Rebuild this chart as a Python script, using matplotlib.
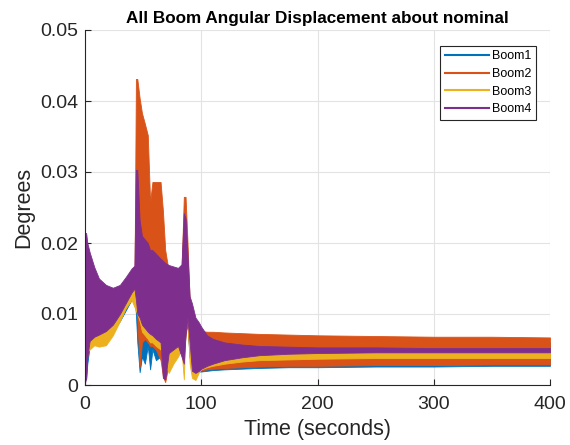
import matplotlib
matplotlib.use('Agg')
import matplotlib.pyplot as plt

# --- dados (envelopes das oscilações) ---
t = [0, 1, 2, 4, 8, 12, 18, 24, 30, 35, 40, 42.5, 43.8, 45, 47, 49, 51.5, 54, 56, 58,
     61, 65, 67, 69, 72, 76, 80, 83, 85, 86.5, 88, 90, 92, 95, 98, 100, 105, 110, 120,
     135, 150, 175, 200, 250, 300, 350, 400]

boom1_lo = [0.0008, 0.0008, 0.0030, 0.0055, 0.0060, 0.0060, 0.0065, 0.0075, 0.0090, 0.0105,
            0.0120, 0.0125, 0.0100, 0.0060, 0.0018, 0.0040, 0.0030, 0.0055, 0.0022, 0.0050,
            0.0035, 0.0040, 0.0020, 0.0010, 0.0030, 0.0040, 0.0045, 0.0045, 0.0040, 0.0075,
            0.0085, 0.0040, 0.0020, 0.0018, 0.0019, 0.0019, 0.0020, 0.0021, 0.0022, 0.0023,
            0.0024, 0.0025, 0.0025, 0.0026, 0.0026, 0.0027, 0.0027]
boom1_hi = [0.0050, 0.0050, 0.0060, 0.0080, 0.0090, 0.0090, 0.0095, 0.0100, 0.0110, 0.0120,
            0.0130, 0.0135, 0.0200, 0.0200, 0.0150, 0.0150, 0.0140, 0.0140, 0.0130, 0.0130,
            0.0120, 0.0120, 0.0110, 0.0110, 0.0100, 0.0100, 0.0100, 0.0100, 0.0120, 0.0120,
            0.0110, 0.0090, 0.0080, 0.0070, 0.0065, 0.0065, 0.0064, 0.0063, 0.0062, 0.0061,
            0.0060, 0.0060, 0.0060, 0.0060, 0.0060, 0.0060, 0.0060]

boom2_lo = [0.0035, 0.0033, 0.0040, 0.0060, 0.0065, 0.0065, 0.0070, 0.0080, 0.0095, 0.0110,
            0.0125, 0.0130, 0.0110, 0.0095, 0.0025, 0.0060, 0.0065, 0.0060, 0.0055, 0.0055,
            0.0050, 0.0035, 0.0012, 0.0004, 0.0030, 0.0045, 0.0050, 0.0050, 0.0045, 0.0070,
            0.0090, 0.0040, 0.0018, 0.0018, 0.0020, 0.0021, 0.0022, 0.0023, 0.0024, 0.0025,
            0.0026, 0.0027, 0.0027, 0.0028, 0.0028, 0.0029, 0.0029]
boom2_hi = [0.0050, 0.0050, 0.0060, 0.0080, 0.0090, 0.0090, 0.0095, 0.0100, 0.0110, 0.0120,
            0.0130, 0.0135, 0.0431, 0.0431, 0.0404, 0.0383, 0.0368, 0.0352, 0.0258, 0.0286,
            0.0286, 0.0286, 0.0246, 0.0190, 0.0160, 0.0150, 0.0150, 0.0160, 0.0265, 0.0265,
            0.0208, 0.0120, 0.0100, 0.0085, 0.0076, 0.0076, 0.0075, 0.0075, 0.0074, 0.0073,
            0.0072, 0.0071, 0.0070, 0.0069, 0.0068, 0.0068, 0.0067]

boom3_lo = [0.0047, 0.0047, 0.0047, 0.0050, 0.0056, 0.0054, 0.0056, 0.0070, 0.0090, 0.0108,
            0.0120, 0.0110, 0.0105, 0.0100, 0.0090, 0.0075, 0.0070, 0.0065, 0.0060, 0.0060,
            0.0055, 0.0050, 0.0040, 0.0030, 0.0017, 0.0030, 0.0040, 0.0050, 0.0008, 0.0080,
            0.0100, 0.0030, 0.0010, 0.0007, 0.0018, 0.0022, 0.0025, 0.0027, 0.0030, 0.0033,
            0.0035, 0.0036, 0.0037, 0.0038, 0.0038, 0.0038, 0.0038]
boom3_hi = [0.0060, 0.0060, 0.0060, 0.0065, 0.0070, 0.0073, 0.0078, 0.0088, 0.0103, 0.0118,
            0.0133, 0.0138, 0.0125, 0.0110, 0.0105, 0.0095, 0.0090, 0.0085, 0.0080, 0.0080,
            0.0075, 0.0070, 0.0060, 0.0055, 0.0055, 0.0055, 0.0058, 0.0060, 0.0060, 0.0122,
            0.0122, 0.0070, 0.0050, 0.0040, 0.0045, 0.0048, 0.0048, 0.0047, 0.0047, 0.0047,
            0.0046, 0.0046, 0.0046, 0.0046, 0.0046, 0.0046, 0.0046]

boom4_lo = [0.0003, 0.0010, 0.0040, 0.0062, 0.0068, 0.0071, 0.0076, 0.0085, 0.0100, 0.0115,
            0.0130, 0.0136, 0.0120, 0.0100, 0.0095, 0.0085, 0.0080, 0.0075, 0.0072, 0.0070,
            0.0065, 0.0060, 0.0010, 0.0008, 0.0045, 0.0050, 0.0055, 0.0040, 0.0030, 0.0070,
            0.0095, 0.0060, 0.0020, 0.0017, 0.0020, 0.0023, 0.0027, 0.0030, 0.0035, 0.0039,
            0.0042, 0.0044, 0.0045, 0.0046, 0.0046, 0.0046, 0.0046]
boom4_hi = [0.0214, 0.0214, 0.0200, 0.0187, 0.0166, 0.0150, 0.0141, 0.0137, 0.0141, 0.0152,
            0.0164, 0.0168, 0.0303, 0.0303, 0.0232, 0.0210, 0.0205, 0.0200, 0.0190, 0.0190,
            0.0185, 0.0178, 0.0175, 0.0172, 0.0169, 0.0167, 0.0165, 0.0170, 0.0242, 0.0235,
            0.0190, 0.0125, 0.0115, 0.0095, 0.0088, 0.0082, 0.0070, 0.0065, 0.0060, 0.0057,
            0.0055, 0.0054, 0.0053, 0.0053, 0.0052, 0.0052, 0.0052]

names = ['Boom1', 'Boom2', 'Boom3', 'Boom4']
y_ticks = [0, 0.01, 0.02, 0.03, 0.04, 0.05]
y_labels = ['0', '0.01', '0.02', '0.03', '0.04', '0.05']
x_ticks = [0, 100, 200, 300, 400]

# cores padrão do MATLAB
colors = ['#0072BD', '#D95319', '#EDB120', '#7E2F8E']
txt = '#262626'

plt.rcParams['font.family'] = ['Liberation Sans', 'DejaVu Sans']

fig = plt.figure(figsize=(5.7, 4.45), dpi=100)
ax = fig.add_axes([85/570, 60/445, 465/570, 355/445])

envelopes = [(boom1_lo, boom1_hi), (boom2_lo, boom2_hi),
             (boom3_lo, boom3_hi), (boom4_lo, boom4_hi)]
for (lo, hi), c, n in zip(envelopes, colors, names):
    ax.fill_between(t, lo, hi, color=c, linewidth=0.6, edgecolor=c)
    ax.plot([], [], color=c, linewidth=1.5, label=n)

ax.set_xlim(0, 400)
ax.set_ylim(0, 0.05)
ax.set_xticks(x_ticks)
ax.set_yticks(y_ticks)
ax.set_yticklabels(y_labels)
ax.tick_params(direction='in', length=4, labelsize=14, colors=txt)
ax.tick_params(axis='x', pad=8)
ax.tick_params(axis='y', pad=5)
ax.grid(True, color='#e3e3e3', linewidth=0.8)
ax.set_axisbelow(True)
for s in ['top', 'right']:
    ax.spines[s].set_visible(False)
for s in ['left', 'bottom']:
    ax.spines[s].set_color(txt)

ax.set_title('All Boom Angular Displacement about nominal', fontsize=12.3,
             fontweight='bold', color='black', pad=5)
ax.set_xlabel('Time (seconds)', fontsize=15.5, color=txt, labelpad=4)
ax.set_ylabel('Degrees', fontsize=15.5, color=txt, labelpad=4)

leg = ax.legend(loc='upper right', bbox_to_anchor=(0.970, 0.955), borderaxespad=0,
                fontsize=9, fancybox=False, framealpha=1, edgecolor=txt,
                handlelength=3.5, borderpad=0.35, labelspacing=0.45, handletextpad=0.3)
leg.get_frame().set_linewidth(0.8)

fig.savefig('out.png', dpi=100)
